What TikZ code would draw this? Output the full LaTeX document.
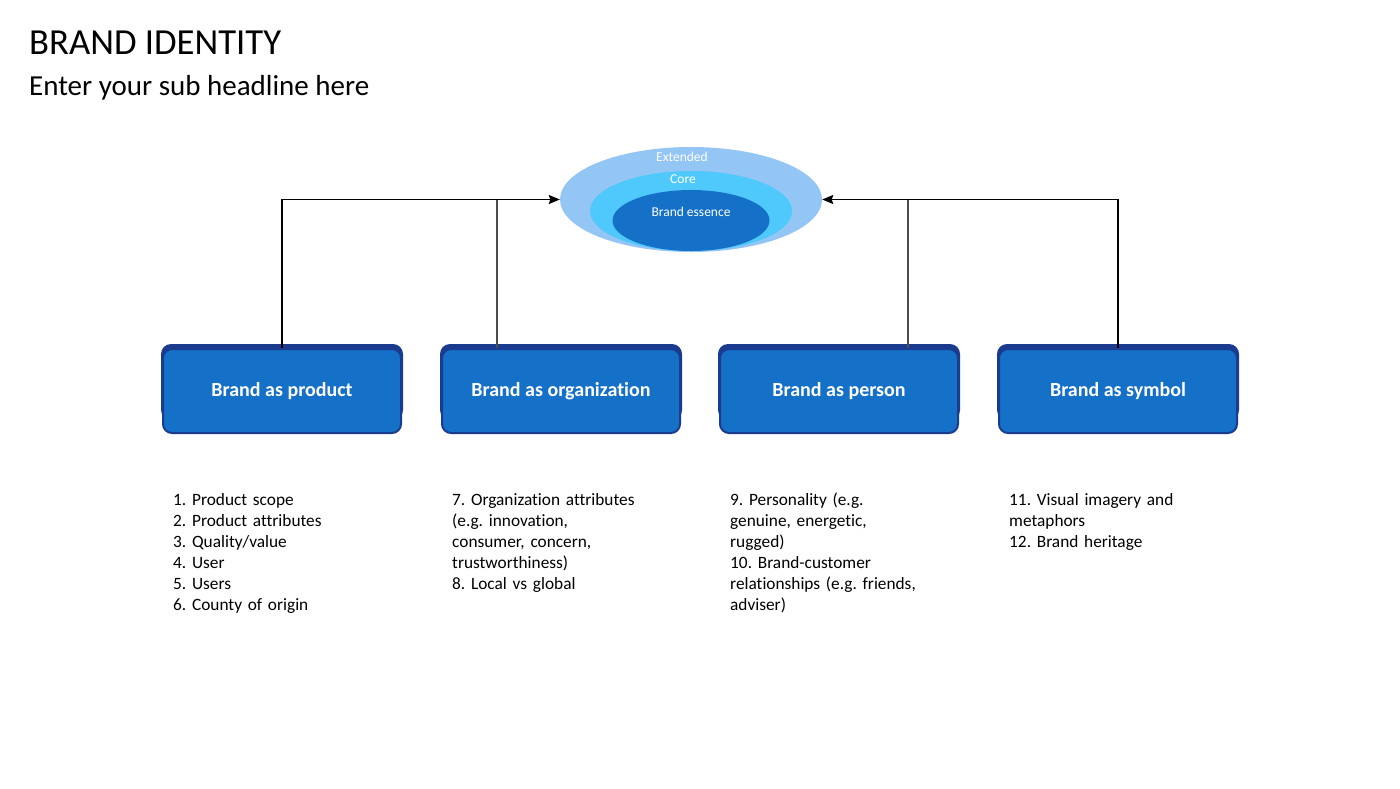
\documentclass[tikz,border=0pt]{standalone}
\usepackage{fontspec}
\setmainfont{Carlito}[Ligatures=NoCommon]
\usetikzlibrary{arrows.meta,shapes.geometric}
\definecolor{boxblue}{HTML}{1570C8}
\definecolor{navy}{HTML}{1B3C8E}
\definecolor{outerell}{HTML}{93C5F5}
\definecolor{midell}{HTML}{4FC9FB}
\definecolor{innerell}{HTML}{1570C8}
\tikzset{
  brandbox/.style={rounded corners=9pt, fill=boxblue, draw=navy, line width=2pt,
    minimum width=238pt, minimum height=84pt, inner sep=0pt, text=white,
    font=\fontsize{20}{24}\selectfont\bfseries},
  boxback/.style={rounded corners=10pt, fill=navy},
  listtext/.style={anchor=north west, inner sep=0pt, text width=230pt, align=left,
    font=\fontsize{17.3}{21}\selectfont},
  ellabel/.style={text=white, inner sep=0pt, font=\fontsize{13.5}{16}\selectfont},
  conn/.style={line width=1.5pt, black},
  thinconn/.style={line width=1.2pt, black!70},
  arr/.style={conn, -{Stealth[length=11pt,width=9pt,inset=1.5pt]}},
}
\frenchspacing
\begin{document}
\begin{tikzpicture}[x=1pt,y=-1pt]
\useasboundingbox[fill=white] (0,0) rectangle (1400,788);

% titles
\node[anchor=base west, inner sep=0pt, font=\fontsize{36.7}{42}\selectfont] (title) at (29,54) {BRAND IDENTITY};
\node[anchor=base west, inner sep=0pt, font=\fontsize{29}{34}\selectfont] (sub) at (29,95) {Enter your sub headline here};

% ellipses
\node[ellipse, fill=outerell, minimum width=262pt, minimum height=105pt, inner sep=0pt] (ell) at (691,199.5) {};
\node[ellipse, fill=midell, minimum width=202pt, minimum height=80pt, inner sep=0pt] (core) at (691,211) {};
\node[ellipse, fill=innerell, minimum width=157pt, minimum height=61pt, inner sep=0pt] (ess) at (691,220.5) {};
\node[ellabel] (extl) at (682,157) {Extended};
\node[ellabel] (corel) at (683,179) {Core};
\node[ellabel] (essl) at (691,212) {Brand essence};

% boxes
\foreach \n/\cx/\t in {b1/282/Brand as product, b2/561/Brand as organization, b3/839/Brand as person, b4/1118/Brand as symbol}{
  \fill[boxback] (\cx-121,344) rectangle (\cx+121,420);
  \node[brandbox] (\n) at (\cx,391) {\t};
}

% connectors
\draw[arr] (b1.north) |- (ell.west);
\draw[thinconn] ([xshift=-64pt]b2.north) -- ([xshift=-64pt]b2.north |- ell.west);
\draw[arr] (b4.north) |- (ell.east);
\draw[thinconn] ([xshift=69pt]b3.north) -- ([xshift=69pt]b3.north |- ell.east);

% lists
\node[listtext] (l1) at (173,490.3) {\strut 1. Product scope\\ 2. Product attributes\\ 3. Quality/value\\ 4. User\\ 5. Users\\ 6. County of origin};
\node[listtext] (l2) at (452,490.3) {\strut 7. Organization attributes\\ (e.g. innovation,\\ consumer, concern,\\ trustworthiness)\\ 8. Local vs global};
\node[listtext] (l3) at (730,490.3) {\strut 9. Personality (e.g.\\ genuine, energetic,\\ rugged)\\ 10. Brand-customer\\ relationships (e.g. friends,\\ adviser)};
\node[listtext] (l4) at (1009,490.3) {\strut 11. Visual imagery and\\ metaphors\\ 12. Brand heritage};
\end{tikzpicture}
\end{document}
